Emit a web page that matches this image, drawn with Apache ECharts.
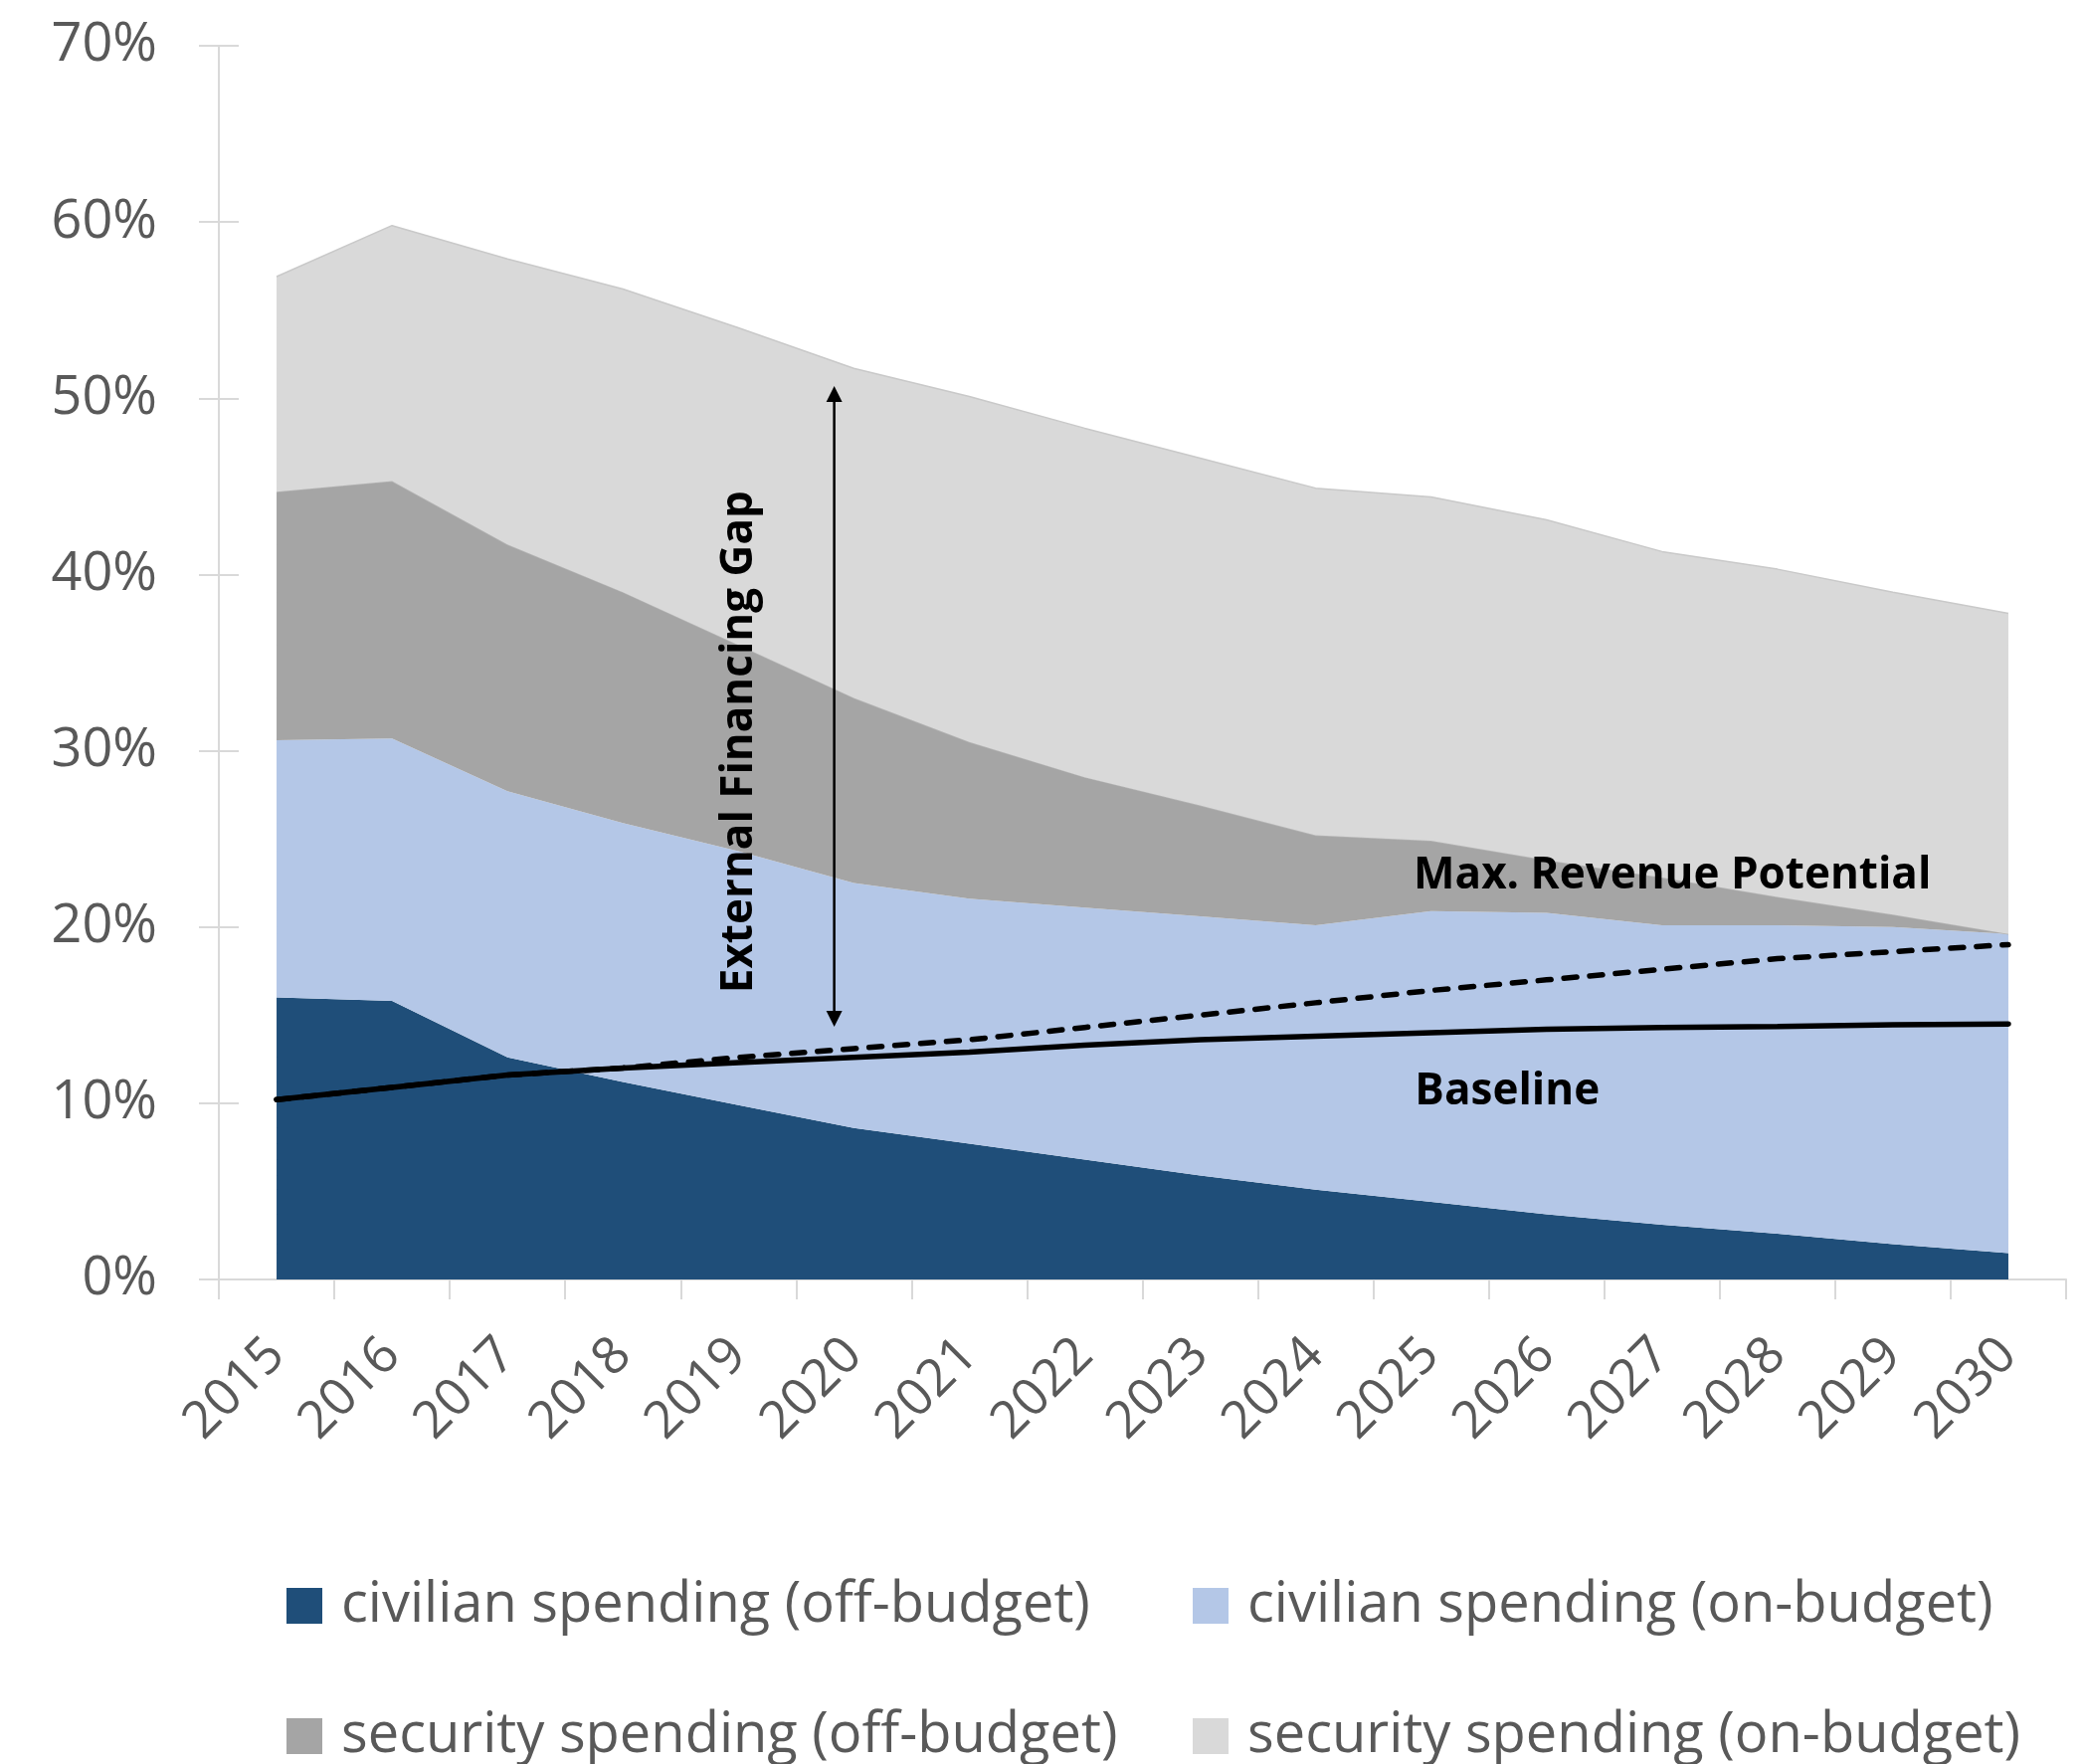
<!DOCTYPE html>
<html><head><meta charset="utf-8">
<script src="https://cdn.jsdelivr.net/npm/echarts@6/dist/echarts.min.js"></script>
<style>html,body{margin:0;padding:0;background:#fff}#c{width:2095px;height:1773px}</style>
</head><body><div id="c"></div>
<script>
const years = ['2015','2016','2017','2018','2019','2020','2021','2022','2023','2024','2025','2026','2027','2028','2029','2030'];
const civilianOffBudget = [16.0, 15.8, 12.6, 11.2, 9.9, 8.6, 7.7, 6.8, 5.9, 5.1, 4.4, 3.7, 3.1, 2.6, 2.0, 1.5];
const civilianOnBudget  = [14.6, 14.9, 15.1, 14.7, 14.4, 13.9, 13.9, 14.3, 14.7, 15.0, 16.5, 17.1, 17.0, 17.5, 18.0, 18.1];
const securityOffBudget = [14.1, 14.6, 14.0, 13.1, 11.7, 10.5, 8.9, 7.4, 6.3, 5.1, 4.0, 3.0, 2.7, 1.6, 0.7, 0.0];
const securityOnBudget  = [12.2, 14.5, 16.2, 17.2, 18.0, 18.7, 19.6, 19.8, 19.7, 19.7, 19.5, 19.3, 18.5, 18.6, 18.3, 18.2];
const baseline          = [10.2, 10.9, 11.6, 12.0, 12.3, 12.6, 12.9, 13.3, 13.6, 13.8, 14.0, 14.2, 14.3, 14.35, 14.45, 14.5];
const maxRevenue        = [10.2, 10.9, 11.6, 12.0, 12.6, 13.1, 13.6, 14.3, 15.0, 15.7, 16.4, 17.0, 17.6, 18.2, 18.6, 19.0];
const yTicks = [0, 10, 20, 30, 40, 50, 60, 70];
const seriesNames = ['civilian spending (off-budget)', 'civilian spending (on-budget)', 'security spending (off-budget)', 'security spending (on-budget)'];
const annotations = ['External Financing Gap', 'Max. Revenue Potential', 'Baseline'];

(function () {
const FONT = 'Open Sans';
const TXT = '#595959';
const AXIS = '#d9d9d9';
const colors = ['#1F4E79', '#B4C7E7', '#A5A5A5', '#D9D9D9'];

const chart = echarts.init(document.getElementById('c'), null, {renderer: 'canvas'});

function legendAt(name, left, topPos) {
  return {
    data: [name], left: left, top: topPos, orient: 'horizontal', icon: 'rect',
    itemWidth: 36, itemHeight: 36, padding: 0, selectedMode: false,
    textStyle: {fontFamily: FONT, fontSize: 56, color: TXT, lineHeight: 60, padding: [0, 0, 0, 14]}
  };
}
function areaSeries(i, data) {
  return {
    name: seriesNames[i], type: 'line', stack: 'total', data: data,
    symbol: 'none', showSymbol: false, smooth: false,
    lineStyle: i >= 2 ? {width: 1.5, color: i === 3 ? '#c9c9c9' : '#b3b3b3'} : {width: 0},
    itemStyle: {color: colors[i]},
    areaStyle: {color: colors[i], opacity: 1},
    z: 1 + i, silent: true
  };
}

chart.setOption({
  animation: false,
  backgroundColor: '#fff',
  textStyle: {fontFamily: FONT},
  grid: {left: 220, right: 18, top: 46, bottom: 487, containLabel: false},
  xAxis: {
    type: 'category', data: years, boundaryGap: true,
    axisLine: {show: true, lineStyle: {color: AXIS, width: 2}},
    axisTick: {show: true, length: 20, lineStyle: {color: AXIS, width: 2}, alignWithLabel: false},
    axisLabel: {interval: 0, rotate: 45, fontSize: 52, color: TXT, fontFamily: FONT, margin: 68},
    splitLine: {show: false}
  },
  yAxis: [{
    type: 'value', min: yTicks[0], max: yTicks[yTicks.length - 1], interval: 10,
    axisLine: {show: true, lineStyle: {color: AXIS, width: 2}},
    axisTick: {show: true, length: 20, lineStyle: {color: AXIS, width: 2}},
    axisLabel: {formatter: '{value}%', fontSize: 54, color: TXT, fontFamily: FONT, margin: 62},
    splitLine: {show: false}
  }, {
    type: 'value', min: yTicks[0], max: yTicks[yTicks.length - 1], interval: 10, position: 'left',
    axisLine: {show: false},
    axisTick: {show: true, inside: true, length: 20, lineStyle: {color: AXIS, width: 2}},
    axisLabel: {show: false}, splitLine: {show: false}
  }],
  legend: [
    legendAt(seriesNames[0], 288, 1584),
    legendAt(seriesNames[1], 1199, 1584),
    legendAt(seriesNames[2], 288, 1715),
    legendAt(seriesNames[3], 1199, 1715)
  ],
  series: [
    areaSeries(0, civilianOffBudget),
    areaSeries(1, civilianOnBudget),
    areaSeries(2, securityOffBudget),
    areaSeries(3, securityOnBudget),
    {name: 'Max. Revenue Potential', type: 'line', data: maxRevenue, symbol: 'none', showSymbol: false,
     lineStyle: {color: '#000', width: 5.5, type: [13, 13], cap: 'round'}, z: 10, silent: true},
    {name: 'Baseline', type: 'line', data: baseline, symbol: 'none', showSymbol: false,
     lineStyle: {color: '#000', width: 5.5, cap: 'round'}, z: 11, silent: true}
  ]
});

function px(i, v) { return chart.convertToPixel({xAxisIndex: 0, yAxisIndex: 0}, [i, v]); }
function pxf(f, v) {
  const i0 = Math.floor(f), t = f - i0;
  const a = px(i0, v), b = px(i0 + 1, v);
  return [a[0] + (b[0] - a[0]) * t, a[1]];
}
const pTop = pxf(4.83, 50.7), pBot = pxf(4.83, 14.34);
const hw = 8, hh = 16;
const ext = pxf(4.01, 30.5), mrp = pxf(12.09, 22.9), bl = pxf(10.66, 10.65);
function label(text, p, rot) {
  return {type: 'text', x: p[0], y: p[1], rotation: rot || 0, z: 100,
    style: {text: text, fontFamily: FONT, fontWeight: 'bold', fontSize: 44, fill: '#000',
            align: 'center', verticalAlign: 'middle'}};
}
chart.setOption({
  graphic: [
    {type: 'line', z: 100, shape: {x1: pTop[0], y1: pTop[1] + hh - 2, x2: pBot[0], y2: pBot[1] - hh + 2},
     style: {stroke: '#000', lineWidth: 2.5}},
    {type: 'polygon', z: 100, shape: {points: [[pTop[0], pTop[1]], [pTop[0] - hw, pTop[1] + hh], [pTop[0] + hw, pTop[1] + hh]]},
     style: {fill: '#000'}},
    {type: 'polygon', z: 100, shape: {points: [[pBot[0], pBot[1]], [pBot[0] - hw, pBot[1] - hh], [pBot[0] + hw, pBot[1] - hh]]},
     style: {fill: '#000'}},
    label(annotations[0], ext, Math.PI / 2),
    label(annotations[1], mrp),
    label(annotations[2], bl)
  ]
});
})();
</script></body></html>
